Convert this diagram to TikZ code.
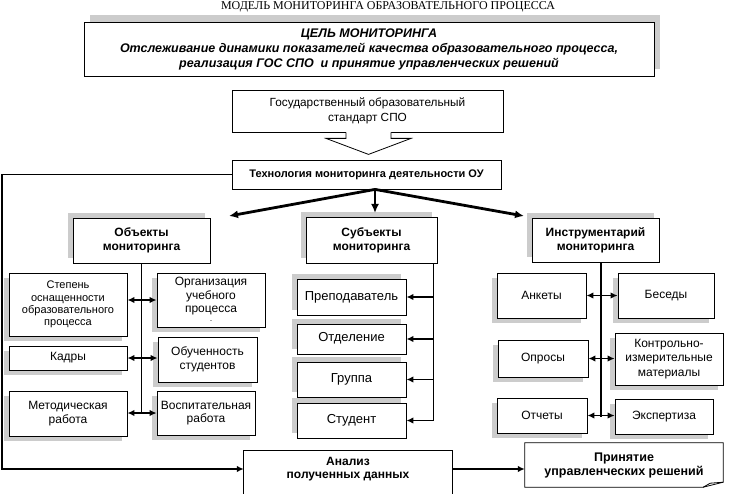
\documentclass[tikz,border=0pt]{standalone}
\usepackage{fontspec}
\setmainfont{Liberation Sans}
\newfontfamily\titlefont{Liberation Serif}
\usetikzlibrary{positioning,arrows.meta,shadows,calc}

\tikzset{
  box/.style={draw, fill=white, line width=0.8pt, align=center, inner sep=1pt,
    font=\fontsize{12}{13.5}\selectfont},
  bigbox/.style={box, font=\fontsize{13}{15}\selectfont},
  headbox/.style={box, font=\bfseries\fontsize{12}{14}\selectfont},
  shUL/.style={drop shadow={shadow xshift=-5pt, shadow yshift=5pt, fill=gray!40, opacity=1}},
  shDL/.style={drop shadow={shadow xshift=-5pt, shadow yshift=-5pt, fill=gray!40, opacity=1}},
  link/.style={line width=1.8pt},
  mainarrow/.style={line width=2.8pt, -{Latex[length=9pt,width=8pt]}},
}

\begin{document}
\begin{tikzpicture}[x=1pt,y=-1pt,>={Latex[length=7pt,width=6.5pt]}]
  \useasboundingbox[fill=white] (0,0) rectangle (746,494);
  % top part
  \node[font=\titlefont\fontsize{12}{12}\selectfont] (title) at (388,7) {МОДЕЛЬ МОНИТОРИНГА ОБРАЗОВАТЕЛЬНОГО ПРОЦЕССА};
  \node[box, minimum width=570pt, minimum height=54pt,
    drop shadow={shadow xshift=6pt, shadow yshift=7pt, fill=gray!40, opacity=1},
    font=\bfseries\itshape\fontsize{12.5}{15}\selectfont] (goal) at (369,49)
    {ЦЕЛЬ МОНИТОРИНГА\\Отслеживание динамики показателей качества образовательного процесса,\\реализация ГОС СПО\ \ и принятие управленческих решений};
  \node[box, minimum width=271pt, minimum height=42pt, font=\fontsize{11.8}{15}\selectfont] (gos) at (367.5,111)
    {Государственный образовательный\\стандарт СПО};
  \node[box, minimum width=269pt, minimum height=29pt, font=\bfseries\fontsize{11}{13}\selectfont] (tech) at (366.5,174.5)
    {Технология мониторинга деятельности ОУ};
  % open arrow under the standard
  \path[fill=white, shift={(gos.south)}] (-21.5,-1) -- (-21.5,6) -- (-41.5,6) -- (1,22) -- (43.5,6) -- (23.5,6) -- (23.5,-1) -- cycle;
  \draw[line width=0.8pt, shift={(gos.south)}] (-21.5,0) -- (-21.5,6) -- (-41.5,6) -- (1,22) -- (43.5,6) -- (23.5,6) -- (23.5,0);

  % three groups
  \node[headbox, shUL, minimum width=137pt, minimum height=45pt] (obj) at (141.5,240.5) {Объекты\\мониторинга};
  \node[headbox, shUL, minimum width=131pt, minimum height=46pt] (subj) at (371.5,240) {Субъекты\\мониторинга};
  \node[headbox, shUL, minimum width=127pt, minimum height=44pt] (instr) at (595.5,240) {Инструментарий\\мониторинга};
  \coordinate (fork) at ([xshift=8.5pt]tech.south);
  \coordinate (objtip) at (229,216);
  \coordinate (subjtip) at (375,213);
  \coordinate (instrtip) at (524,216);
  \draw[mainarrow] (fork) -- (objtip);
  \draw[mainarrow] (fork) -- (subjtip);
  \draw[mainarrow] (fork) -- (instrtip);

  % objects
  \node[box, shDL, minimum width=118pt, minimum height=63pt, font=\fontsize{11}{12.3}\selectfont] (stepen) at (68,304.5) {Степень\\оснащенности\\образовательного\\процесса};
  \node[box, shDL, minimum width=108pt, minimum height=54pt] (org) at (211,300) {Организация\\учебного\\процесса\\[-4pt]{\fontsize{6}{6}\selectfont -}};
  \node[box, shDL, minimum width=118pt, minimum height=24pt] (kadry) at (68,358) {Кадры};
  \node[box, shDL, minimum width=99pt, minimum height=45pt] (obuch) at (207.5,359.5) {Обученность\\студентов};
  \node[box, shDL, minimum width=118pt, minimum height=45pt] (metod) at (68,413.5) {Методическая\\работа};
  \node[box, shDL, minimum width=98pt, minimum height=44pt] (vosp) at (206,413) {Воспитательная\\работа};
  \draw[link] (obj.south) -- (obj.south |- vosp.west);
  \draw[link,<->] (stepen.east |- org.west) -- (org.west);
  \draw[link,<->] (kadry.east) -- (kadry.east -| obuch.west);
  \draw[link,<->] (vosp.west -| metod.east) -- (vosp.west);

  % subjects
  \node[bigbox, shUL, minimum width=109pt, minimum height=36pt] (prep) at (351.5,297) {Преподаватель};
  \node[bigbox, shUL, minimum width=109pt, minimum height=30pt, text depth=0pt, text height=5pt] (otdel) at (351.5,339) {Отделение};
  \node[bigbox, shUL, minimum width=109pt, minimum height=35pt] (grupp) at (351.5,379.5) {Группа};
  \node[bigbox, shUL, minimum width=109pt, minimum height=35pt] (stud) at (351.5,420.5) {Студент};
  \coordinate (sspine) at ([xshift=-4pt]subj.south east);
  \draw[link] (sspine) -- (sspine |- stud.east);
  \foreach \n in {prep,otdel,grupp,stud}
    \draw[link,->] (sspine |- \n.east) -- (\n.east);

  % instruments
  \node[box, shDL, minimum width=89pt, minimum height=45pt] (anket) at (541.5,295.5) {Анкеты};
  \node[box, shDL, minimum width=96pt, minimum height=45pt] (besed) at (666,295.5) {Беседы};
  \node[box, shDL, minimum width=90pt, minimum height=37pt] (opros) at (543,358.5) {Опросы};
  \node[box, shDL, minimum width=108pt, minimum height=52pt, font=\fontsize{12}{14.5}\selectfont] (kim) at (669,359) {Контрольно-\\измерительные\\материалы};
  \node[box, shDL, minimum width=90pt, minimum height=35pt] (otch) at (542,415.5) {Отчеты};
  \node[box, shDL, minimum width=98pt, minimum height=35pt] (expert) at (664,416.5) {Экспертиза};
  \coordinate (ispine) at ([xshift=5.5pt]instr.south);
  \draw[link] (ispine) -- (ispine |- expert.west);
  \draw[link,<->] (anket.east) -- (anket.east -| besed.west);
  \draw[link,<->] (opros.east) -- (opros.east -| kim.west);
  \draw[link,<->] (otch.east) -- (otch.east -| expert.west);

  % bottom
  \node[align=center, minimum width=208pt, minimum height=36pt, font=\bfseries\fontsize{12}{13.5}\selectfont] (anal) at (348,469)
    {Анализ\\полученных данных};
  \draw[line width=0.8pt] ([yshift=-40pt]anal.south west) |- (anal.north east) -- ([yshift=-40pt]anal.south east);
  \node[align=center, minimum width=198pt, minimum height=44pt, font=\bfseries\fontsize{12.5}{14}\selectfont] (prin) at (624,465)
    {Принятие\\управленческих решений};
  \draw[line width=0.8pt] (prin.north west) -- (prin.north east) -- ([yshift=5pt]prin.south east)
    -- ([xshift=-20pt]prin.south east) -- (prin.south west) -- cycle;
  \draw[line width=0.8pt] ([xshift=-20pt]prin.south east) -- ([xshift=-13pt,yshift=4pt]prin.south east) -- ([yshift=5pt]prin.south east);
  \coordinate (fbturn) at (2,300);
  \draw[link,->] (tech.west) -| (fbturn) |- (anal.west);
  \draw[link,->] (anal.east) -- (anal.east -| prin.west);
\end{tikzpicture}
\end{document}
